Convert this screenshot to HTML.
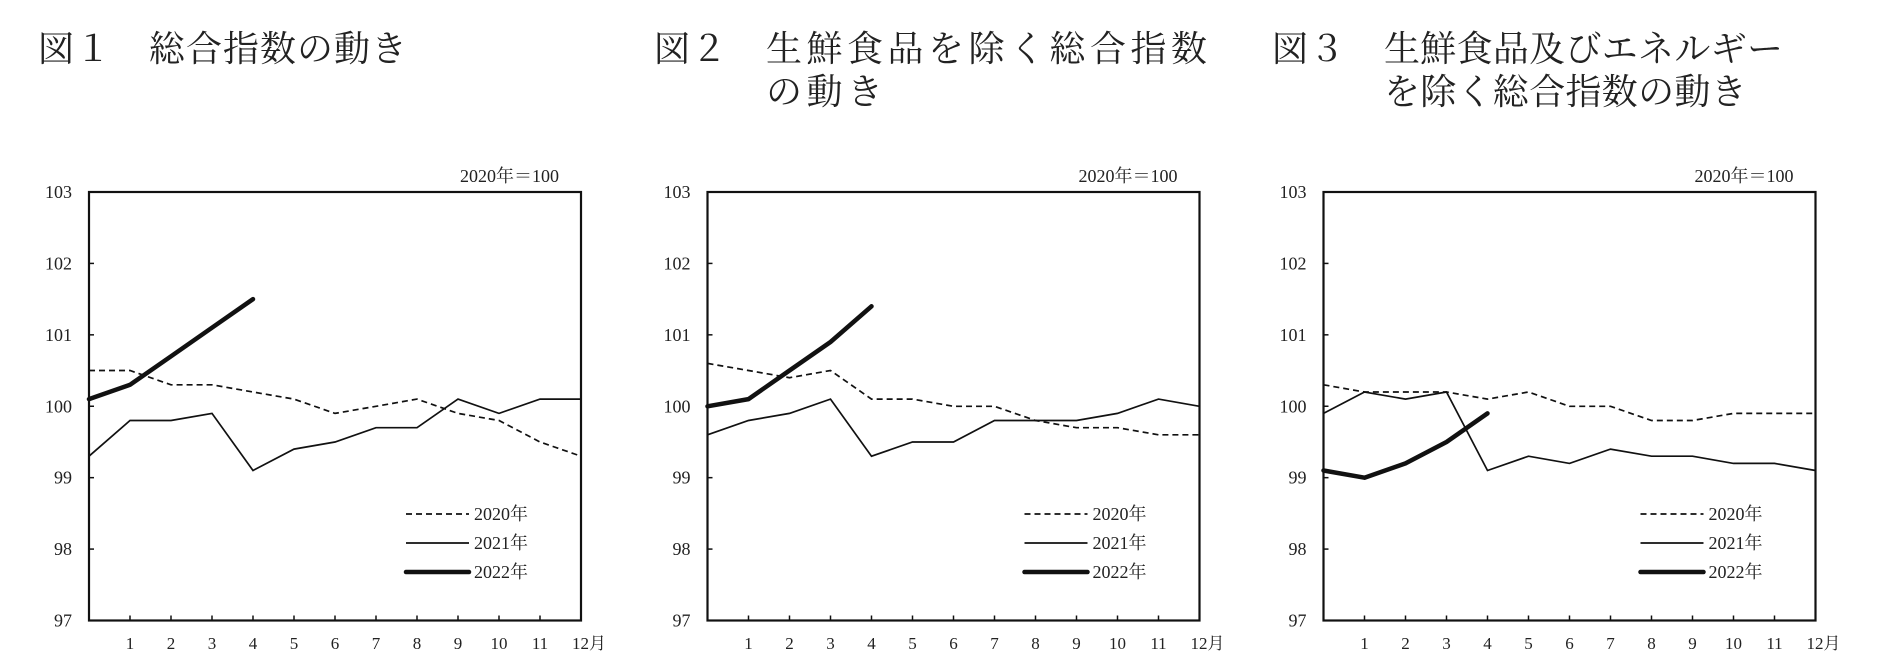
<!DOCTYPE html>
<html><head><meta charset="utf-8"><style>
html,body{margin:0;padding:0;background:#fff;}
body{width:1878px;height:672px;overflow:hidden;position:relative;}
.t{position:absolute;font-family:"Liberation Serif","Noto Serif CJK JP","Noto Serif CJK SC",serif;font-size:36px;letter-spacing:1px;color:#222;line-height:43px;white-space:nowrap;}
svg{position:absolute;left:0;top:0;}
</style></head><body>
<div class="t" style="left:38px;top:28px;">図１</div>
<div class="t" style="left:149px;top:28px;">総合指数の動き</div>
<div class="t" style="left:654px;top:28px;">図２</div>
<div class="t" style="left:766px;top:28px;letter-spacing:4.5px;">生鮮食品を除く総合指数<br>の動き</div>
<div class="t" style="left:1272px;top:28px;">図３</div>
<div class="t" style="left:1384px;top:28px;letter-spacing:0.3px;">生鮮食品及びエネルギー<br>を除く総合指数の動き</div>
<svg id="s" width="1878" height="672" xmlns="http://www.w3.org/2000/svg" font-family="Liberation Serif, Noto Serif CJK JP, serif" fill="#222"></svg>
<script>
(function(){
const data=[
 [[100.5,100.5,100.3,100.3,100.2,100.1,99.9,100.0,100.1,99.9,99.8,99.5,99.3],
  [99.3,99.8,99.8,99.9,99.1,99.4,99.5,99.7,99.7,100.1,99.9,100.1,100.1],
  [100.1,100.3,100.7,101.1,101.5]],
 [[100.6,100.5,100.4,100.5,100.1,100.1,100.0,100.0,99.8,99.7,99.7,99.6,99.6],
  [99.6,99.8,99.9,100.1,99.3,99.5,99.5,99.8,99.8,99.8,99.9,100.1,100.0],
  [100.0,100.1,100.5,100.9,101.4]],
 [[100.3,100.2,100.2,100.2,100.1,100.2,100.0,100.0,99.8,99.8,99.9,99.9,99.9],
  [99.9,100.2,100.1,100.2,99.1,99.3,99.2,99.4,99.3,99.3,99.2,99.2,99.1],
  [99.1,99.0,99.2,99.5,99.9]]];
const lefts=[89,707.5,1323.5];
const W=492,T=192,B=620.5,H=B-T;
let s='';
lefts.forEach((L,i)=>{
 const X=m=>L+W*m/12, Y=v=>B-(v-97)/6*H;
 const d=data[i];
 const pts=a=>a.map((v,m)=>X(m).toFixed(1)+','+Y(v).toFixed(1)).join(' ');
 s+=`<polyline points="${pts(d[0])}" fill="none" stroke="#111" stroke-width="1.7" stroke-dasharray="6,4"/>`;
 s+=`<polyline points="${pts(d[1])}" fill="none" stroke="#111" stroke-width="1.7"/>`;
 s+=`<polyline points="${pts(d[2])}" fill="none" stroke="#111" stroke-width="4.5" stroke-linecap="round" stroke-linejoin="round"/>`;
 s+=`<rect x="${L}" y="${T}" width="${W}" height="${H}" fill="none" stroke="#111" stroke-width="2.2"/>`;
 for(let v=97;v<=103;v++){
  s+=`<line x1="${L}" x2="${L+5}" y1="${Y(v)}" y2="${Y(v)}" stroke="#111" stroke-width="1.5"/>`;
  s+=`<text x="${L-17}" y="${Y(v)+6}" font-size="18" text-anchor="end">${v}</text>`;
 }
 for(let m=1;m<=12;m++){
  s+=`<line x1="${X(m)}" x2="${X(m)}" y1="${B}" y2="${B-5}" stroke="#111" stroke-width="1.5"/>`;
  s+=`<text x="${X(m)+(m==12?8:0)}" y="649" font-size="17" text-anchor="middle">${m==12?'12月':m}</text>`;
 }
 s+=`<text x="${L+W-22}" y="182" font-size="18" text-anchor="end">2020年＝100</text>`;
 const lg=[[514,'1.7','6,4','2020年'],[543,'1.7','none','2021年'],[572,'4.5','none','2022年']];
 lg.forEach(r=>{
  s+=`<line x1="${L+317}" x2="${L+380}" y1="${r[0]}" y2="${r[0]}" stroke="#111" stroke-width="${r[1]}" stroke-dasharray="${r[2]}" stroke-linecap="${r[1]=='4.5'?'round':'butt'}"/>`;
  s+=`<text x="${L+385}" y="${r[0]+6}" font-size="18">${r[3]}</text>`;
 });
});
document.getElementById('s').innerHTML=s;
})();
</script>
</body></html>
